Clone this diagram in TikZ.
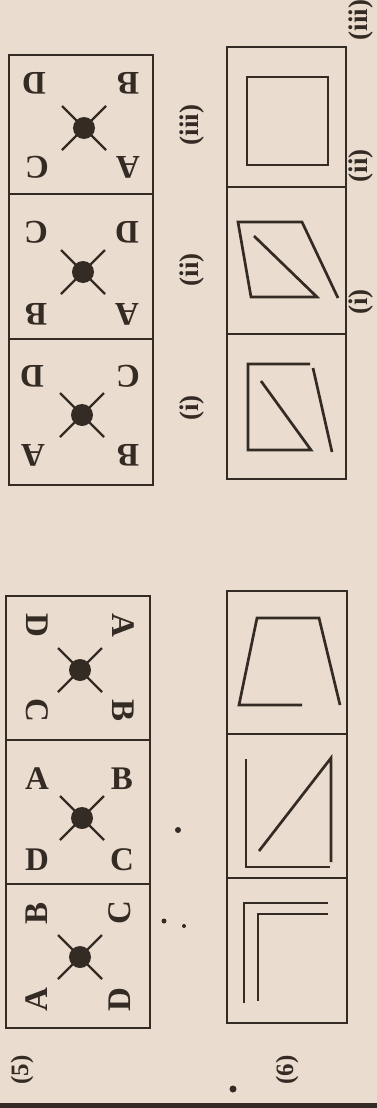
\documentclass[tikz,border=0pt]{standalone}
\usepackage{fontspec}
\setmainfont{Liberation Serif}
\definecolor{paper}{RGB}{234,221,207}
\definecolor{ink}{RGB}{52,43,36}

\begin{document}
\begin{tikzpicture}[x=1pt,y=-1pt,
  frame/.style={ink,line width=2.6pt},
  fig/.style={ink,line width=2.7pt},
  arm/.style={ink,line width=2.4pt},
  hub/.style={circle,fill=ink,inner sep=0pt,minimum size=22pt},
  letter/.style={text=ink,inner sep=0pt,font=\fontsize{33}{35}\selectfont\bfseries},
  tag/.style={text=ink,inner sep=0pt,rotate=90,font=\fontsize{27}{29}\selectfont\bfseries},
  qno/.style={text=ink,inner sep=0pt,rotate=90,font=\fontsize{25}{27}\selectfont\bfseries}]

% page
\useasboundingbox (0,0) rectangle (377,1108);
\fill[paper] (0,0) rectangle (377,1108);
\fill[ink] (0,1103) rectangle (377,1108);

% ---------------- PROBLEM (5): QUESTION FIGURES ----------------
\draw[frame] (6,596) rectangle (150,1028);
\draw[frame] (6,740) -- (150,740);
\draw[frame] (6,884) -- (150,884);

\begin{scope}[shift={(80,670)}]
\node[hub] (qh1) at (0,0) {};
\draw[arm] (-22,-22) -- (22,22);
\draw[arm] (22,-22) -- (-22,22);
\node[letter,rotate=-90] (q1d) at (-43,-45) {D};
\node[letter,rotate=-90] (q1a) at (43,-45) {A};
\node[letter,rotate=-90] (q1c) at (-43,40) {C};
\node[letter,rotate=-90] (q1b) at (43,40) {B};
\end{scope}

\begin{scope}[shift={(82,818)}]
\node[hub] (qh2) at (0,0) {};
\draw[arm] (-22,-22) -- (22,22);
\draw[arm] (22,-22) -- (-22,22);
\node[letter] (q2a) at (-45,-39) {A};
\node[letter] (q2b) at (40,-39) {B};
\node[letter] (q2d) at (-45,42) {D};
\node[letter] (q2c) at (40,42) {C};
\end{scope}

\begin{scope}[shift={(80,957)}]
\node[hub] (qh3) at (0,0) {};
\draw[arm] (-22,-22) -- (22,22);
\draw[arm] (22,-22) -- (-22,22);
\node[letter,rotate=90] (q3b) at (-43,-44) {B};
\node[letter,rotate=90] (q3c) at (40,-44) {C};
\node[letter,rotate=90] (q3a) at (-43,43) {A};
\node[letter,rotate=90] (q3d) at (40,43) {D};
\end{scope}

% ---------------- PROBLEM (5): ANSWER FIGURES ----------------
\draw[frame] (9,55) rectangle (153,485);
\draw[frame] (9,194) -- (153,194);
\draw[frame] (9,339) -- (153,339);

\begin{scope}[shift={(84,128)}]
\node[hub] (ah3) at (0,0) {};
\draw[arm] (-22,-22) -- (22,22);
\draw[arm] (22,-22) -- (-22,22);
\node[letter,rotate=180] (a3d) at (-50,-45) {D};
\node[letter,rotate=180] (a3b) at (44,-45) {B};
\node[letter,rotate=180] (a3c) at (-47,39) {C};
\node[letter,rotate=180] (a3a) at (44,39) {A};
\end{scope}

\begin{scope}[shift={(83,272)}]
\node[hub] (ah2) at (0,0) {};
\draw[arm] (-22,-22) -- (22,22);
\draw[arm] (22,-22) -- (-22,22);
\node[letter,rotate=180] (a2c) at (-47,-40) {C};
\node[letter,rotate=180] (a2d) at (44,-40) {D};
\node[letter,rotate=180] (a2b) at (-47,42) {B};
\node[letter,rotate=180] (a2a) at (44,42) {A};
\end{scope}

\begin{scope}[shift={(82,415)}]
\node[hub] (ah1) at (0,0) {};
\draw[arm] (-22,-22) -- (22,22);
\draw[arm] (22,-22) -- (-22,22);
\node[letter,rotate=180] (a1d) at (-50,-39) {D};
\node[letter,rotate=180] (a1c) at (46,-39) {C};
\node[letter,rotate=180] (a1a) at (-49,40) {A};
\node[letter,rotate=180] (a1b) at (46,40) {B};
\end{scope}

\node[tag] (t5iii) at (192,125) {(iii)};
\node[tag] (t5ii) at (192,270) {(ii)};
\node[tag] (t5i) at (192,408) {(i)};

% ---------------- PROBLEM (6): QUESTION FIGURES ----------------
\draw[frame] (227,591) rectangle (347,1023);
\draw[frame] (227,734) -- (347,734);
\draw[frame] (227,878) -- (347,878);

% open trapezoid
\draw[fig] (340,705) -- (319,618) -- (257,618) -- (239,705) -- (302,705);
% L with diagonal
\draw[fig] (246,759) -- (246,867) -- (330,867);
\draw[fig] (259,851) -- (331,758) -- (331,862);
% two nested corners
\draw[fig] (328,903) -- (244,903) -- (244,1003);
\draw[fig] (328,914) -- (258,914) -- (258,1001);

% ---------------- PROBLEM (6): ANSWER FIGURES ----------------
\draw[frame] (227,47) rectangle (346,479);
\draw[frame] (227,187) -- (346,187);
\draw[frame] (227,334) -- (346,334);

% square
\draw[fig] (247,77) rectangle (328,165);
% slanted frame
\draw[fig] (338,298) -- (302,222) -- (238,222) -- (251,297) -- (317,297) -- (254,236);
% cut square
\draw[fig] (310,364) -- (248,364) -- (248,450) -- (311,450) -- (261,381);
\draw[fig] (313,368) -- (332,452);

\node[tag] (t6iii) at (361,20) {(iii)};
\node[tag] (t6ii) at (361,166) {(ii)};
\node[tag] (t6i) at (361,302) {(i)};

% ---------------- PROBLEM NUMBERS ----------------
\node[qno] (n5) at (22,1070) {(5)};
\node[qno] (n6) at (287,1070) {(6)};

% specks
\fill[ink] (233,1089) circle (3.5pt);
\fill[ink] (178,830) circle (3pt);
\fill[ink] (164,921) circle (2.5pt);
\fill[ink] (184,926) circle (2pt);

\end{tikzpicture}
\end{document}
